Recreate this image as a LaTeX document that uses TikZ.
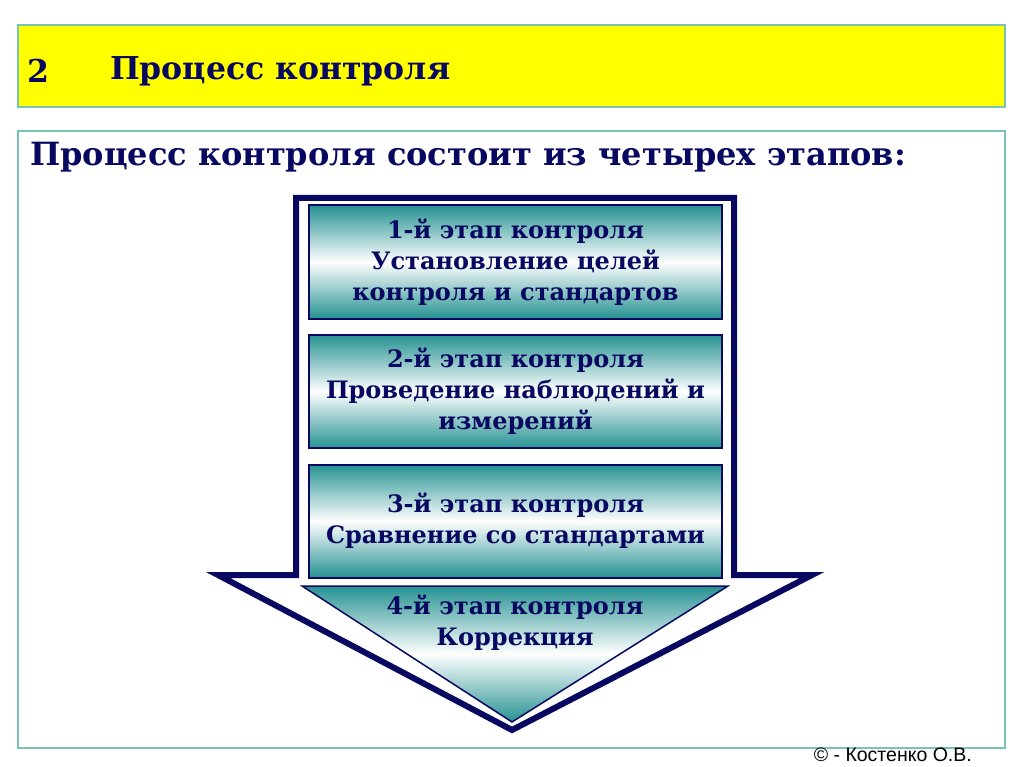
\documentclass[tikz,border=0pt]{standalone}
\usepackage{fontspec}
\setmainfont{DejaVu Serif}
\newfontfamily\sansf{Liberation Sans}
\definecolor{navy}{RGB}{8,8,96}
\definecolor{tealc}{RGB}{38,146,146}
\definecolor{boxline}{RGB}{120,196,178}
\definecolor{ylw}{RGB}{255,255,0}
\tikzset{
  panel/.style={draw=boxline, line width=1.5pt},
  stagebox/.style={draw=navy, line width=2pt, top color=tealc, bottom color=tealc, middle color=white,
    minimum width=413pt, minimum height=113pt, inner sep=0pt, align=center, text=navy,
    font=\bfseries\fontsize{24}{31}\selectfont},
  stagetext/.style={align=center, text=navy, font=\bfseries\fontsize{24}{31}\selectfont},
  heading/.style={text=navy, anchor=west, inner sep=0pt}
}
\begin{document}
\begin{tikzpicture}[x=1pt,y=-1pt]
\useasboundingbox (0,0) rectangle (1024,767);
\fill[white] (0,0) rectangle (1024,767);
% yellow title bar
\node[panel, fill=ylw, minimum width=987pt, minimum height=82pt, inner sep=0pt] (bar) at (511.5,66) {};
\node[heading, font=\bfseries\fontsize{31.5}{36}\selectfont] (num) at (27,71) {2};
\node[heading, font=\bfseries\fontsize{31.5}{36}\selectfont] (title) at (110,71) {Процесс контроля};
% main panel
\node[panel, fill=white, minimum width=987pt, minimum height=617pt, inner sep=0pt] (main) at (511.5,439.5) {};
\node[heading, font=\bfseries\fontsize{32}{38}\selectfont] (sub) at (30,157) {Процесс контроля состоит из четырех этапов:};
% big arrow
\draw[navy, line width=6pt, fill=white, line join=miter]
  (296,198) -- (734,198) -- (734,575) -- (812,575) -- (512,730) -- (218,575) -- (296,575) -- cycle;
% stage 4 triangle
\draw[draw=navy, line width=1.5pt, top color=tealc, bottom color=tealc, middle color=white]
  (302,586) -- (728,586) -- (512,722) -- cycle;
\node[stagetext] (s4) at (515,623) {4-й этап контроля\\Коррекция};
% stage boxes
\node[stagebox] (s1) at (515.5,262) {\raisebox{-5pt}{\parbox{413pt}{\centering 1-й этап контроля\\Установление целей\\контроля и стандартов}}};
\node[stagebox] (s2) at (515.5,391.5) {\raisebox{-5pt}{\parbox{413pt}{\centering 2-й этап контроля\\Проведение наблюдений и\\измерений}}};
\node[stagebox] (s3) at (515.5,521) {\raisebox{-5pt}{\parbox{413pt}{\centering 3-й этап контроля\\Сравнение со стандартами}}};
% copyright
\node[anchor=east, inner sep=0pt, font=\sansf\fontsize{19.5}{22}\selectfont, text=black] (copy) at (972,755) {© - Костенко О.В.};
\end{tikzpicture}
\end{document}
